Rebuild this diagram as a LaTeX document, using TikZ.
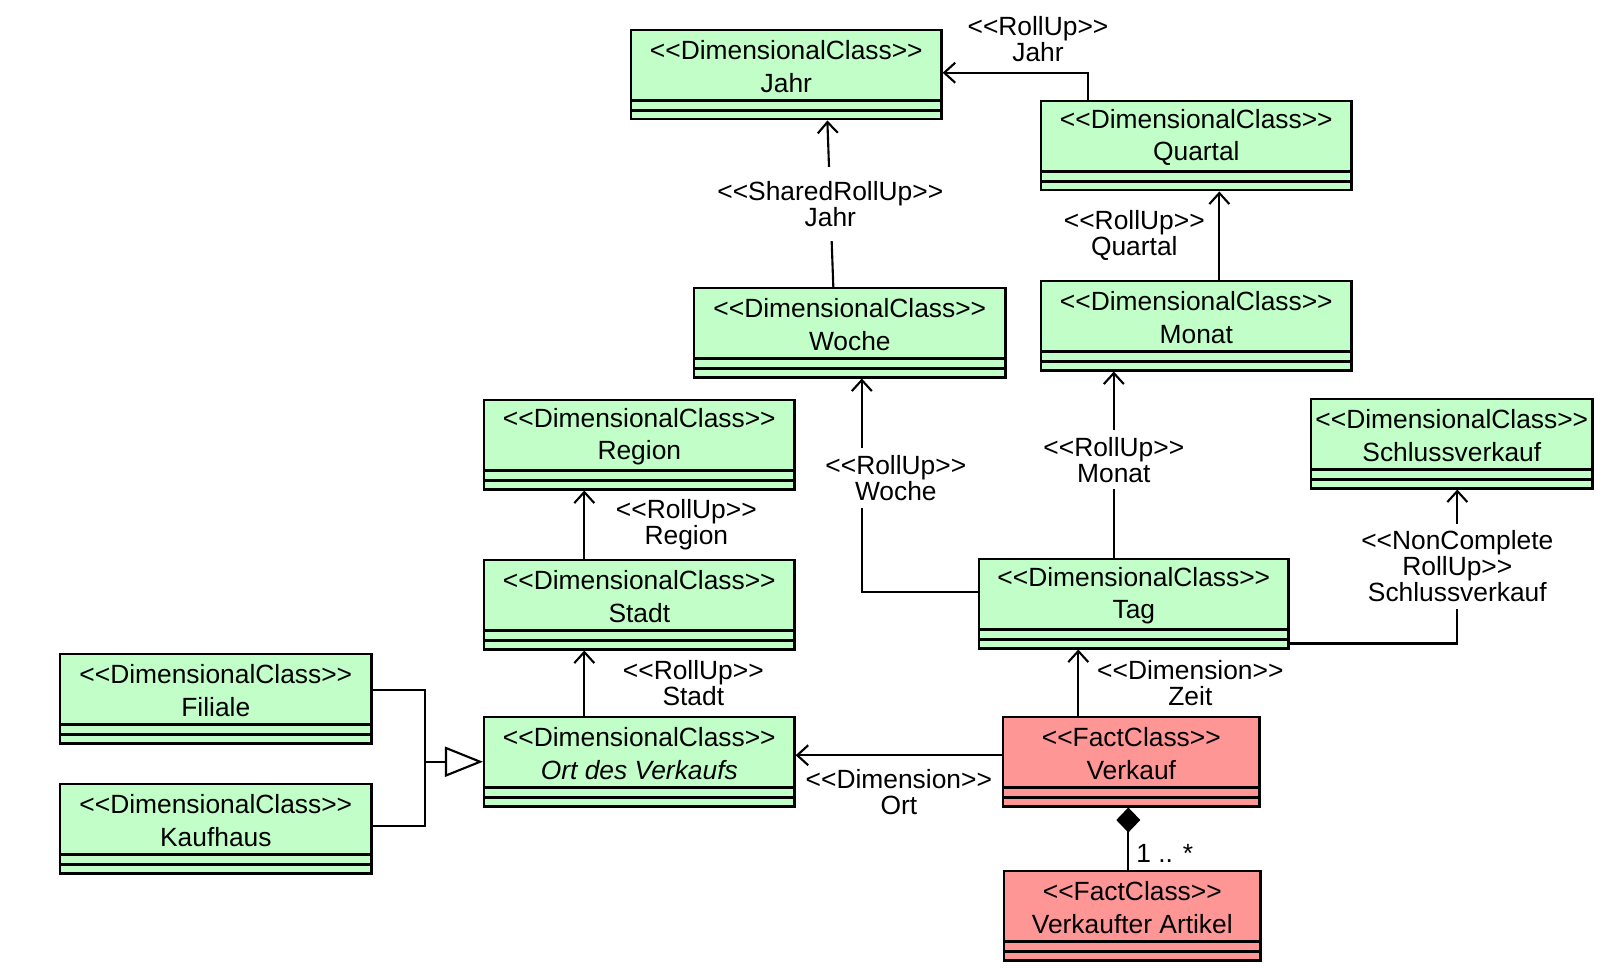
\documentclass[tikz,border=0pt]{standalone}
\usepackage{fontspec}
\setmainfont{Liberation Sans}[Ligatures=TeXOff]
\usetikzlibrary{arrows.meta,calc}

\definecolor{dimgreen}{RGB}{194,255,200}
\definecolor{factred}{RGB}{255,150,150}

\tikzset{
  classbox/.style={draw, line width=0.7pt, anchor=north west, minimum height=0.89cm, inner sep=0pt},
  classname/.style={align=center, font=\fontsize{7.5}{9.2}\selectfont, inner sep=0pt},
  rollup/.style={line width=0.6pt, -{Straight Barb[length=1.1mm,width=2mm]}},
  composite/.style={line width=0.6pt, -{Diamond[length=2.5mm,width=2.4mm]}},
  inherit/.style={line width=0.6pt, -{Triangle[open,length=3.8mm,width=3mm]}},
  lbl/.style={align=center, font=\fontsize{7.5}{7.4}\selectfont, inner sep=2pt}
}

\begin{document}
\begin{tikzpicture}[x=0.01cm, y=-0.01cm]
  \useasboundingbox (0,0) rectangle (1606,968);

  % dimensional classes
  \foreach \n/\x/\y/\w/\t in {jahr/630/29/3.1/Jahr, quartal/1040/100/3.1/Quartal,
      woche/693/287/3.11/Woche, monat/1040/280/3.1/Monat, region/483/399/3.1/Region,
      schluss/1310/398/2.81/Schlussverkauf, stadt/483/559/3.1/Stadt, tag/978/558/3.09/Tag,
      filiale/59/653/3.11/Filiale, ort/483/716/3.1/\textit{Ort des Verkaufs},
      kaufhaus/59/783/3.11/Kaufhaus} {
    \node[classbox, fill=dimgreen, minimum width=\w cm] (\n) at (\x,\y) {};
    \node[classname] (\n-name) at ([yshift=-0.375cm]\n.north) {<<DimensionalClass>>\\\t};
    \draw[line width=0.7pt] ([yshift=0.2cm]\n.south west) -- ([yshift=0.2cm]\n.south east)
      ([yshift=0.1cm]\n.south west) -- ([yshift=0.1cm]\n.south east);
  }

  % fact classes
  \foreach \n/\x/\y/\t in {verkauf/1002/716/Verkauf, artikel/1003/870/Verkaufter Artikel} {
    \node[classbox, fill=factred, minimum width=2.56cm] (\n) at (\x,\y) {};
    \node[classname] (\n-name) at ([yshift=-0.375cm]\n.north) {<<FactClass>>\\\t};
    \draw[line width=0.7pt] ([yshift=0.2cm]\n.south west) -- ([yshift=0.2cm]\n.south east)
      ([yshift=0.1cm]\n.south west) -- ([yshift=0.1cm]\n.south east);
  }

  % roll-ups of the time dimension
  \draw[rollup] ([xshift=0.48cm]quartal.north west) |- ([yshift=0.02cm]jahr.east)
    node[pos=0.5, lbl, xshift=-0.5cm, yshift=0.34cm] {<<RollUp>>\\Jahr};
  \draw[rollup] ([xshift=-0.165cm]woche.north) -- ([xshift=0.41cm]jahr.south)
    node[midway, lbl, fill=white, inner ysep=4pt] {<<SharedRollUp>>\\Jahr};
  \draw[rollup] ([xshift=0.23cm]monat.north) -- ([xshift=0.23cm]monat.north |- quartal.south)
    node[midway, lbl, xshift=-0.85cm] {<<RollUp>>\\Quartal};
  \draw[rollup] ([xshift=-0.2cm]tag.north) -- ([xshift=-0.2cm]tag.north |- monat.south)
    node[midway, lbl, fill=white, yshift=0.05cm] {<<RollUp>>\\Monat};
  \draw[rollup] ([yshift=0.12cm]tag.west) -| ([xshift=0.12cm]woche.south)
    node[pos=0.75, lbl, fill=white, xshift=0.34cm, yshift=0.07cm] {<<RollUp>>\\Woche};
  \draw[rollup] ([yshift=0.06cm]tag.south east) -| ([xshift=0.055cm]schluss.south)
    node[pos=0.75, lbl, fill=white] {<<NonComplete\\RollUp>>\\Schlussverkauf};

  % roll-ups of the place dimension
  \draw[rollup] ([xshift=-0.55cm]stadt.north) -- ([xshift=-0.55cm]stadt.north |- region.south)
    node[midway, lbl, xshift=1.02cm] {<<RollUp>>\\Region};
  \draw[rollup] ([xshift=-0.55cm]ort.north) -- ([xshift=-0.55cm]ort.north |- stadt.south)
    node[midway, lbl, xshift=1.09cm] {<<RollUp>>\\Stadt};

  % dimensions of the fact
  \draw[rollup] ([yshift=0.065cm]verkauf.west) -- ([yshift=0.065cm]ort.east)
    node[midway, lbl, yshift=-0.37cm] {<<Dimension>>\\Ort};
  \draw[rollup] ([xshift=-0.53cm]verkauf.north) -- ([xshift=-0.53cm]verkauf.north |- tag.south)
    node[midway, lbl, xshift=1.12cm] {<<Dimension>>\\Zeit};
  \draw[composite] ([xshift=-0.04cm]artikel.north) -- ([xshift=-0.04cm]artikel.north |- verkauf.south)
    node[midway, lbl, right, yshift=-0.15cm] {1 .. *};

  % generalisation
  \coordinate (genjoint) at ($(ort.west)+(-58,0)$);
  \draw[line width=0.6pt] ([yshift=0.085cm]filiale.east) -| (genjoint);
  \draw[line width=0.6pt] ([yshift=0.025cm]kaufhaus.east) -| (genjoint);
  \draw[inherit] (genjoint) -- (ort.west);
\end{tikzpicture}
\end{document}
